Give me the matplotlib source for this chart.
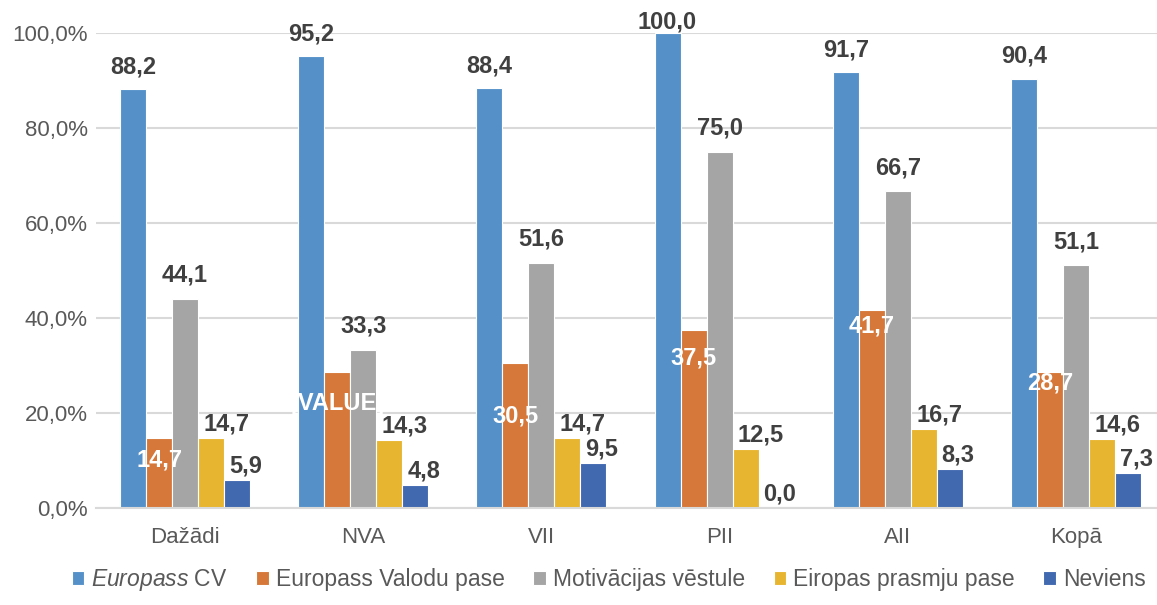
import numpy as np
import matplotlib.pyplot as plt

# ================================
# DATA
# ================================
categories = ["Dažādi", "NVA", "VII", "PII", "AII", "Kopā"]
series_names = [r"$\mathit{Europass}$ CV", "Europass Valodu pase", "Motivācijas vēstule",
                "Eiropas prasmju pase", "Neviens"]
europass_cv = [88.2, 95.2, 88.4, 100.0, 91.7, 90.4]
valodu_pase = [14.7, 28.6, 30.5, 37.5, 41.7, 28.7]
motivacijas = [44.1, 33.3, 51.6, 75.0, 66.7, 51.1]
prasmju_pase = [14.7, 14.3, 14.7, 12.5, 16.7, 14.6]
neviens = [5.9, 4.8, 9.5, 0.0, 8.3, 7.3]
valodu_labels = ["14,7", "[VALUE]", "30,5", "37,5", "41,7", "28,7"]

# layout only: heights where the white labels of the orange bars sit
valodu_label_y = [10.1, 21.9, 19.4, 31.6, 38.3, 26.3]

colors = ["#5591C8", "#D6783A", "#A5A5A5", "#E7B530", "#4169B0"]
# label offsets (points) per series: dx, dy
label_offsets = [(0, 16), None, (0, 17), (11, 10), (6, 10)]

# ================================
# PLOT
# ================================
plt.rcParams["font.family"] = ["Liberation Sans", "DejaVu Sans"]
plt.rcParams["mathtext.fontset"] = "custom"
plt.rcParams["mathtext.it"] = "Liberation Sans:italic"
plt.rcParams["mathtext.rm"] = "Liberation Sans"

fig = plt.figure(figsize=(11.57, 6.05), dpi=100)
ax = fig.add_axes([96 / 1157, 1 - 508 / 605, 1069 / 1157, 475 / 605])

all_series = [europass_cv, valodu_pase, motivacijas, prasmju_pase, neviens]
x = np.arange(len(categories))
w = 0.146
px_per_unit = 475 / 100  # vertical pixels per percent

for i, (vals, name, col) in enumerate(zip(all_series, series_names, colors)):
    pos = x + (i - 2) * w
    ax.bar(pos, vals, width=w, color=col, edgecolor="white", linewidth=0.8,
           label=name, zorder=3)
    if i == 1:
        for p, ly, txt in zip(pos, valodu_label_y, valodu_labels):
            ax.text(p, ly, txt, color="white", fontsize=17, fontweight="bold",
                    ha="center", va="center", zorder=5)
    else:
        dx, dy = label_offsets[i]
        for p, v in zip(pos, vals):
            # keep the label inside the figure, like Excel does
            room = ((100 - v) * px_per_unit + 33 - 22) / 1.389
            ax.annotate(f"{v:.1f}".replace(".", ","), (p, v), xytext=(dx, min(dy, room)),
                        textcoords="offset points", ha="center", va="center",
                        fontsize=17, fontweight="bold", color="#404040", zorder=5)

ax.set_xlim(-0.5, len(categories) - 0.5)
ax.set_ylim(0, 100)
ax.set_yticks(np.arange(0, 101, 20))
ax.set_yticklabels([f"{t:.1f}%".replace(".", ",") for t in np.arange(0, 101, 20)])
ax.set_xticks(x)
ax.set_xticklabels(categories)
ax.tick_params(axis="both", length=0, labelsize=16, colors="#595959")
ax.tick_params(axis="x", pad=14)
ax.tick_params(axis="y", pad=6)
ax.grid(axis="y", color="#D9D9D9", linewidth=1.5, zorder=0)
for s in ["top", "right", "left"]:
    ax.spines[s].set_visible(False)
ax.spines["bottom"].set_color("#D9D9D9")
ax.spines["bottom"].set_linewidth(1.5)
ax.spines["bottom"].set_zorder(4)

leg = fig.legend(loc="center", bbox_to_anchor=(0.526, 1 - 580 / 605), ncol=5,
                 frameon=False, fontsize=16.5, handlelength=0.55, handleheight=0.55,
                 handletextpad=0.3, columnspacing=1.25, borderaxespad=0)
for t in leg.get_texts():
    t.set_color("#595959")

fig.savefig("out.png", dpi=100)
